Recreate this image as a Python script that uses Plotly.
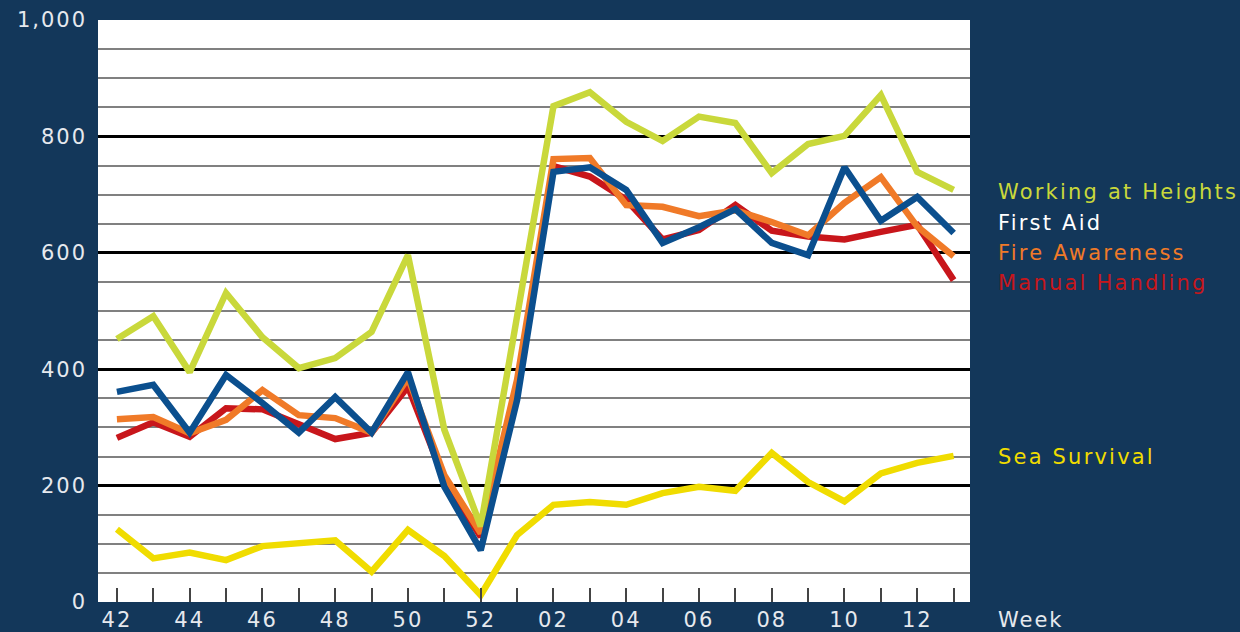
import plotly.graph_objects as go

weeks = ["42","43","44","45","46","47","48","49","50","51","52",
         "01","02","03","04","05","06","07","08","09","10","11","12","13"]

working_at_heights = [452, 491, 395, 531, 455, 402, 419, 464, 596, 296, 130,
                      490, 852, 876, 825, 792, 834, 823, 737, 787, 801, 871, 739, 708]
first_aid = [361, 373, 291, 390, 342, 291, 352, 291, 395, 198, 89,
             347, 739, 747, 708, 617, 644, 675, 617, 596, 747, 655, 696, 634]
fire_awareness = [314, 318, 290, 313, 364, 321, 316, 291, 385, 218, 118,
                  382, 761, 763, 682, 679, 663, 673, 653, 630, 686, 730, 645, 594]
manual_handling = [282, 309, 284, 333, 331, 307, 280, 291, 370, 210, 112,
                   372, 749, 731, 691, 623, 639, 682, 638, 628, 623, 636, 648, 553]
sea_survival = [125, 75, 85, 72, 96, 100, 106, 52, 124, 79, 12,
                115, 167, 172, 167, 187, 198, 191, 256, 206, 173, 221, 239, 251]

y_ticks = [0, 200, 400, 600, 800, 1000]
y_minor = [v for v in range(50, 1000, 50) if v % 200 != 0]
y_major_grid = [200, 400, 600, 800]

BG = "#13375a"
FONT = "DejaVu Sans"

series = [
    ("Sea Survival", sea_survival, "#f0dc00"),
    ("Manual Handling", manual_handling, "#c8161b"),
    ("Fire Awareness", fire_awareness, "#f07a28"),
    ("Working at Heights", working_at_heights, "#c9d83b"),
    ("First Aid", first_aid, "#0b4f8e"),
]

fig = go.Figure()
for name, vals, col in series:
    fig.add_trace(go.Scatter(x=weeks, y=vals, mode="lines", name=name,
                             line=dict(color=col, width=6.5, shape="linear"),
                             showlegend=False))

def sp(t, s=2):
    return f'<span style="letter-spacing:{s}px">{t}</span>'

fig.update_layout(
    width=1240, height=632,
    paper_bgcolor=BG, plot_bgcolor="white",
    margin=dict(l=98, r=270, t=20, b=30, autoexpand=False),
    font=dict(family=FONT, size=21, color="#e6e9ee"),
    xaxis=dict(
        type="category", range=[-0.52, 23.45], automargin=False,
        tickmode="array", tickvals=weeks,
        ticktext=[sp(w) if int(w) % 2 == 0 else "" for w in weeks],
        ticks="inside", ticklen=14, tickwidth=1.5, tickcolor="#444444",
        showgrid=False, zeroline=False, showline=False,
        ticklabelstandoff=3,
        tickfont=dict(family=FONT, size=21, color="#e6e9ee"),
    ),
    yaxis=dict(
        range=[0, 1000], tickmode="array", tickvals=y_major_grid, automargin=False,
        showticklabels=False, ticks="",
        showgrid=True, gridcolor="#000000", gridwidth=2.5,
        zeroline=False, showline=False,
        minor=dict(tickmode="array", tickvals=y_minor, showgrid=True,
                   gridcolor="#808080", gridwidth=2, ticks=""),
    ),
    yaxis2=dict(
        overlaying="y", side="left", range=[0, 1000], automargin=False,
        tickmode="array", tickvals=y_ticks,
        ticktext=[sp(f"{v:,}") for v in y_ticks],
        showgrid=False, zeroline=False, showline=False,
        ticklabelstandoff=10,
        tickfont=dict(family=FONT, size=21, color="#e6e9ee"),
    ),
)
# invisible helper trace that activates the label axis
fig.add_trace(go.Scatter(x=[weeks[0]], y=[0], yaxis="y2", mode="markers",
                         marker=dict(opacity=0), showlegend=False, hoverinfo="skip"))

labels = [
    ("Working at Heights", "#c9d83b"),
    ("First Aid", "#ffffff"),
    ("Fire Awareness", "#f07a28"),
    ("Manual Handling", "#c8161b"),
    ("Sea Survival", "#f0dc00"),
]
label_y = [0.704, 0.652, 0.600, 0.548, 0.250]
for (name, col), yy in zip(labels, label_y):
    fig.add_annotation(text=sp(name, 2.2), xref="paper", yref="paper", x=1.03, y=yy,
                       xanchor="left", yanchor="middle", showarrow=False,
                       font=dict(family=FONT, size=21, color=col))

fig.add_annotation(text=sp("Week", 2.0), xref="paper", yref="paper", x=1.03, y=-0.031,
                   xanchor="left", yanchor="middle", showarrow=False,
                   font=dict(family=FONT, size=21, color="#e6e9ee"))

fig.write_html("out.html", config={"displayModeBar": False},
               post_script="document.body.style.margin='0';document.body.style.overflow='hidden';document.body.style.background='#13375a';")
